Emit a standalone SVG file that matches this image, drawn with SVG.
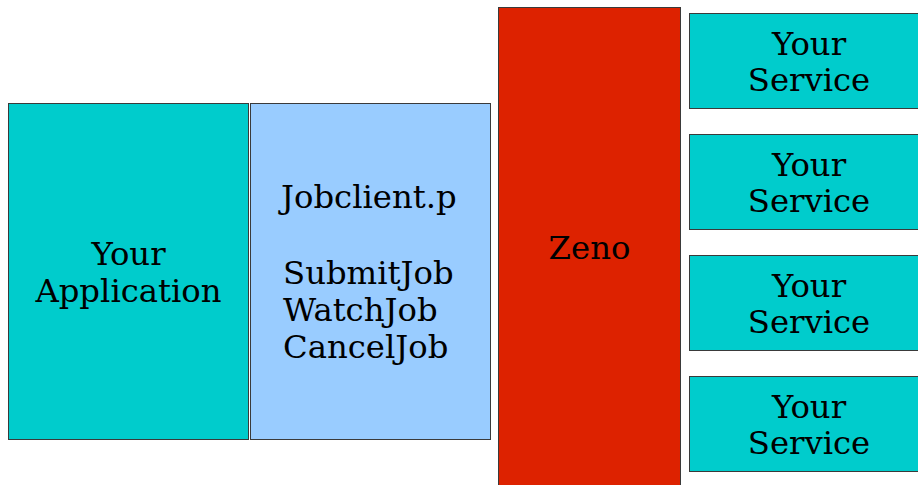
<svg xmlns="http://www.w3.org/2000/svg" width="918" height="485" viewBox="0 0 918 485">
<style>
.box{stroke:#3a3a3a;stroke-width:1}
.cyan{fill:#00CCCC}
.blue{fill:#99CCFF}
.red{fill:#DD2200}
text{font-family:"DejaVu Serif",serif;font-size:32.3px;fill:#000}
.c{text-anchor:middle}
</style>
<rect width="918" height="485" fill="#fff"/>
<g id="connectors"></g>
<g id="app">
<rect class="box cyan" x="8.5" y="103.5" width="240" height="336"/>
<text class="c" x="128.5" y="265">Your</text>
<text class="c" x="128.5" y="302">Application</text>
</g>
<g id="jobclient">
<rect class="box blue" x="250.5" y="103.5" width="240" height="336"/>
<text x="281" y="208">Jobclient.p</text>
<text x="283" y="284">SubmitJob</text>
<text x="283" y="321">WatchJob</text>
<text x="283" y="358">CancelJob</text>
</g>
<g id="zeno">
<rect class="box red" x="498.5" y="7.5" width="182" height="490"/>
<text class="c" x="589.5" y="259">Zeno</text>
</g>
<g id="service1">
<rect class="box cyan" x="689.5" y="13.5" width="240" height="95"/>
<text class="c" x="809" y="55">Your</text>
<text class="c" x="809" y="91">Service</text>
</g>
<g id="service2">
<rect class="box cyan" x="689.5" y="134.5" width="240" height="95"/>
<text class="c" x="809" y="176">Your</text>
<text class="c" x="809" y="212">Service</text>
</g>
<g id="service3">
<rect class="box cyan" x="689.5" y="255.5" width="240" height="95"/>
<text class="c" x="809" y="297">Your</text>
<text class="c" x="809" y="333">Service</text>
</g>
<g id="service4">
<rect class="box cyan" x="689.5" y="376.5" width="240" height="95"/>
<text class="c" x="809" y="418">Your</text>
<text class="c" x="809" y="454">Service</text>
</g>
</svg>
